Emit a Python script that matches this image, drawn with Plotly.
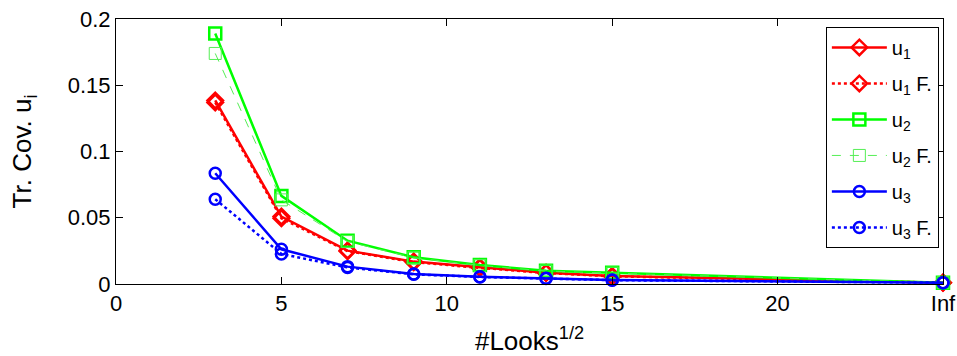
import plotly.graph_objects as go

# sqrt(#looks) sample positions; the last one stands for "Inf"
looks_sqrt = [3, 5, 7, 9, 11, 13, 15, 25]
tick_vals = [0, 5, 10, 15, 20, 25]
tick_text = ["0", "5", "10", "15", "20", "Inf"]

u1 = [0.1385, 0.0509, 0.0252, 0.0169, 0.0126, 0.0085, 0.0060, 0.0010]
u1_f = [0.1370, 0.0496, 0.0248, 0.0165, 0.0122, 0.0083, 0.0058, 0.0010]
u2 = [0.1890, 0.0665, 0.0327, 0.0202, 0.0144, 0.0100, 0.0085, 0.0010]
u2_f = [0.1740, 0.0635, 0.0320, 0.0198, 0.0140, 0.0098, 0.0082, 0.0010]
u3 = [0.0836, 0.0262, 0.0131, 0.0076, 0.0055, 0.0043, 0.0030, 0.0010]
u3_f = [0.0640, 0.0227, 0.0125, 0.0073, 0.0053, 0.0041, 0.0029, 0.0010]

RED, GREEN, BLUE = "#ff0000", "#00ff00", "#0000ff"

series = [
    ("u<sub>1</sub>", u1, RED, "solid", 2.5, "diamond-open", 12, 2.5),
    ("u<sub>1</sub> F.", u1_f, RED, "dot", 2.5, "diamond-open", 12, 2.5),
    ("u<sub>2</sub>", u2, GREEN, "solid", 2.5, "square-open", 12, 2.5),
    ("u<sub>2</sub> F.", u2_f, "#55ee55", "dash", 1, "square-open", 12, 1),
    ("u<sub>3</sub>", u3, BLUE, "solid", 2.5, "circle-open", 11, 2.5),
    ("u<sub>3</sub> F.", u3_f, BLUE, "dot", 2.5, "circle-open", 11, 2.5),
]

fig = go.Figure()
for i, (name, vals, color, dash, lw, sym, msize, mlw) in enumerate(series):
    fig.add_trace(go.Scatter(
        x=looks_sqrt, y=vals, name=name, mode="lines+markers",
        legendgroup=f"g{i}", cliponaxis=False,
        line=dict(color=color, dash=dash, width=lw),
        marker=dict(symbol=sym, size=msize, color=color,
                    line=dict(color=color, width=mlw)),
    ))

font_main = "Liberation Sans, Arial, Helvetica, sans-serif"

fig.update_layout(
    width=957, height=356,
    margin=dict(l=116, r=14, t=19, b=72),
    paper_bgcolor="white", plot_bgcolor="white",
    font=dict(family=font_main, size=22, color="black"),
    showlegend=True,
    legend=dict(
        x=0.995, xanchor="right", y=0.97, yanchor="top",
        bgcolor="white", bordercolor="black", borderwidth=1,
        font=dict(size=20), itemwidth=55, tracegroupgap=7,
    ),
    xaxis=dict(
        range=[0, 25], tickvals=tick_vals, ticktext=tick_text,
        ticks="inside", ticklen=7, tickwidth=1, tickcolor="black",
        showline=True, linecolor="black", linewidth=1, mirror="ticks",
        showgrid=False, zeroline=False, automargin=False,
        title=dict(text="#Looks<sup>1/2</sup>", standoff=18),
    ),
    yaxis=dict(
        range=[0, 0.2], tickvals=[0, 0.05, 0.1, 0.15, 0.2],
        ticktext=["0", "0.05", "0.1", "0.15", "0.2"],
        ticks="inside", ticklen=7, tickwidth=1, tickcolor="black",
        showline=True, linecolor="black", linewidth=1, mirror="ticks",
        showgrid=False, zeroline=False, automargin=False,
        title=dict(text="Tr. Cov. u<sub>i</sub>", standoff=28),
    ),
)

fig.write_html("out.html")
